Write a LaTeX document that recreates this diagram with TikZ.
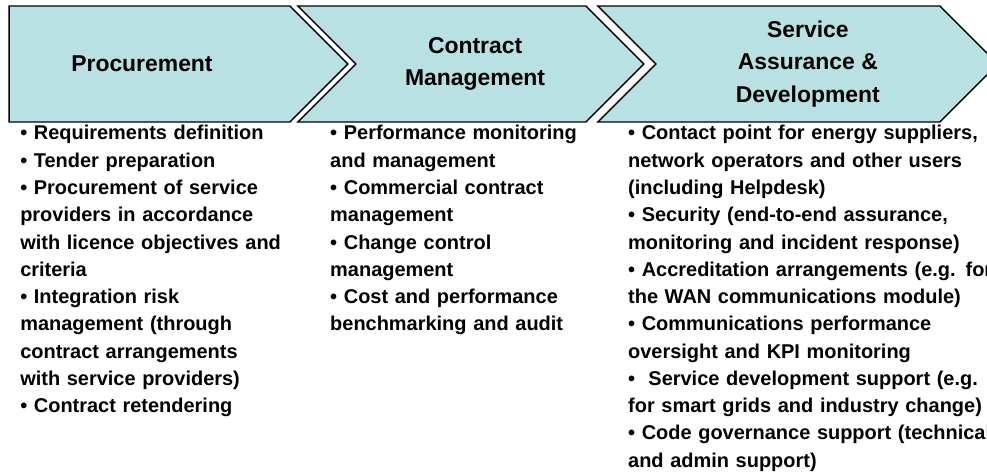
\documentclass[tikz,border=0pt]{standalone}
\usepackage{fontspec}
\setmainfont{Liberation Sans}
\usepackage{tikz}

\definecolor{stagefill}{HTML}{B9E0E3}

\tikzset{
	stage/.style={draw=black, fill=stagefill, line width=1pt, line join=miter},
	stagetitle/.style={black, align=center, inner sep=0pt, font=\fontsize{16.3}{23.1}\selectfont\bfseries},
	duties/.style={black, anchor=base west, inner sep=0pt, text width=10.00cm, align=left, font=\fontsize{14.2}{19.4}\selectfont\bfseries}
}

\begin{document}
\begin{tikzpicture}
		\useasboundingbox (0.00,0.00) rectangle (24.68,11.85);
		\clip (0.00,0.00) rectangle (24.68,11.85);
		% stages
		\draw[stage] (0.23,11.70) -- (7.25,11.70) -- (8.70,10.25) -- (7.25,8.80) -- (0.23,8.80) -- cycle;
		\draw[stage] (7.45,11.70) -- (14.65,11.70) -- (16.10,10.25) -- (14.65,8.80) -- (7.45,8.80) -- (8.90,10.25) -- cycle;
		\draw[stage] (14.95,11.70) -- (23.50,11.70) -- (24.95,10.25) -- (23.50,8.80) -- (14.95,8.80) -- (16.40,10.25) -- cycle;
		\node[stagetitle] (procurement) at (3.55,10.25) {Procurement};
		\node[stagetitle] (contract) at (11.88,10.25) {Contract\\Management};
		\node[stagetitle] (service) at (20.20,10.25) {Service\\Assurance \&\\Development};
		% what each stage covers
		\node[duties] (procurementlist) at (0.50,8.35) {%
			• Requirements definition\\
			• Tender preparation\\
			• Procurement of service\\
			providers in accordance\\
			with licence objectives and\\
			criteria\\
			• Integration risk\\
			management (through\\
			contract arrangements\\
			with service providers)\\
			• Contract retendering};
		\node[duties] (contractlist) at (8.25,8.35) {%
			• Performance monitoring\\
			and management\\
			• Commercial contract\\
			management\\
			• Change control\\
			management\\
			• Cost and performance\\
			benchmarking and audit};
		\node[duties] (servicelist) at (15.70,8.35) {%
			• Contact point for energy suppliers,\\
			network operators and other users\\
			(including Helpdesk)\\
			• Security (end-to-end assurance,\\
			monitoring and incident response)\\
			• Accreditation arrangements (e.g. for\\
			the WAN communications module)\\
			• Communications performance\\
			oversight and KPI monitoring\\
			•\ \ Service development support (e.g.\\
			for smart grids and industry change)\\
			• Code governance support (technical\\
			and admin support)};
\end{tikzpicture}
\end{document}
